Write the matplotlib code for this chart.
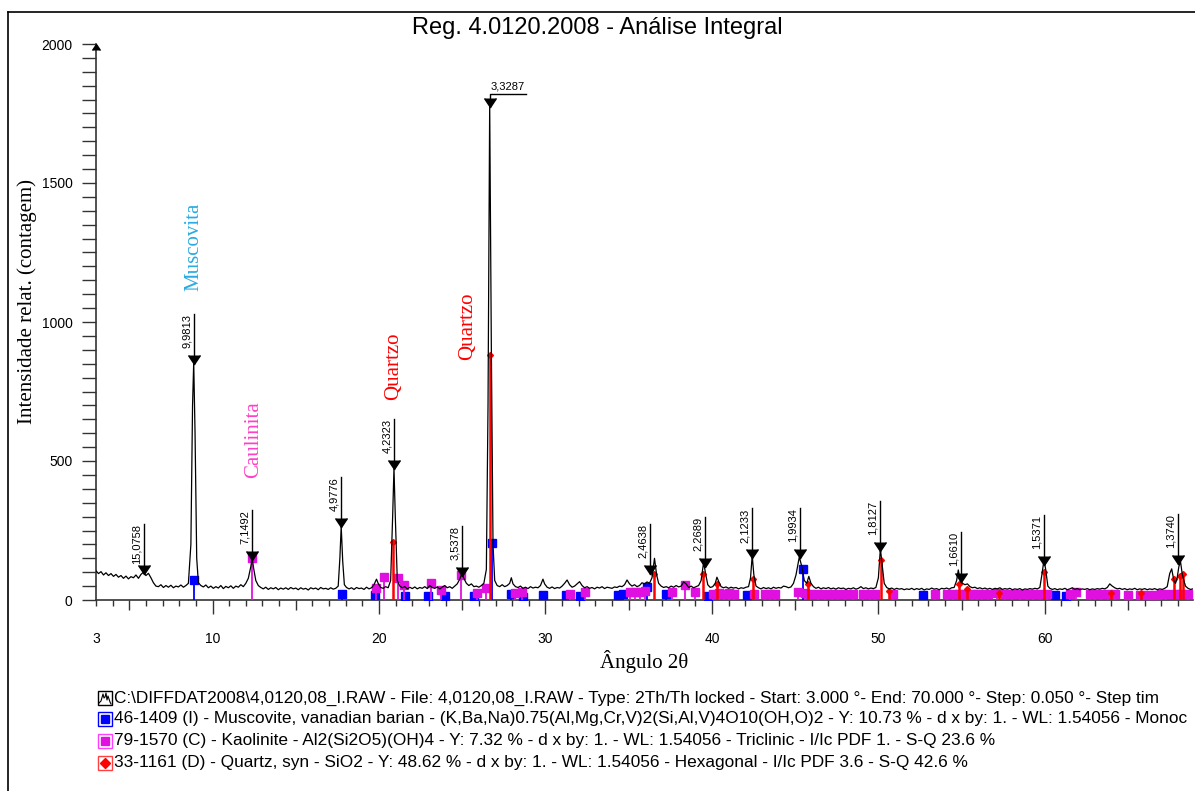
import matplotlib
matplotlib.use("Agg")
import matplotlib.pyplot as plt
from matplotlib.lines import Line2D
from matplotlib.patches import Rectangle
from matplotlib import transforms
from matplotlib.ticker import MultipleLocator

# Difratograma (2theta, contagens)
trace = [
    (3.00, 105), (3.15, 95), (3.30, 102), (3.45, 90), (3.60, 98), (3.75, 88), (3.90, 95),
    (4.05, 85), (4.20, 92), (4.35, 82), (4.50, 88), (4.65, 78), (4.80, 86), (4.95, 76),
    (5.10, 84), (5.25, 80), (5.40, 90), (5.55, 78), (5.70, 92), (5.85, 100), (6.00, 88),
    (6.15, 96), (6.30, 80), (6.45, 62), (6.60, 50), (6.75, 48), (6.90, 55), (7.05, 45),
    (7.20, 52), (7.35, 46), (7.50, 53), (7.65, 44), (7.80, 50), (7.95, 47), (8.10, 54),
    (8.25, 46), (8.40, 52), (8.55, 60), (8.70, 200), (8.80, 700), (8.87, 855), (8.95, 600),
    (9.05, 150), (9.15, 62), (9.30, 52), (9.45, 47), (9.60, 54), (9.75, 44), (9.90, 50),
    (10.05, 42), (10.20, 48), (10.35, 43), (10.50, 52), (10.65, 41), (10.80, 49), (10.95, 44),
    (11.10, 51), (11.25, 42), (11.40, 50), (11.55, 46), (11.70, 55), (11.85, 48), (12.00, 60),
    (12.15, 78), (12.30, 120), (12.38, 150), (12.48, 110), (12.60, 70), (12.75, 52), (12.90, 45),
    (13.05, 40), (13.20, 46), (13.35, 38), (13.50, 44), (13.65, 40), (13.80, 45), (13.95, 37),
    (14.10, 43), (14.25, 39), (14.40, 44), (14.55, 38), (14.70, 45), (14.85, 40), (15.00, 43),
    (15.15, 37), (15.30, 44), (15.45, 39), (15.60, 42), (15.75, 36), (15.90, 44), (16.05, 40),
    (16.20, 43), (16.35, 37), (16.50, 45), (16.65, 40), (16.80, 42), (16.95, 38), (17.10, 44),
    (17.25, 39), (17.40, 42), (17.55, 50), (17.65, 150), (17.73, 265), (17.82, 140), (17.92, 55),
    (18.05, 45), (18.20, 40), (18.35, 44), (18.50, 38), (18.65, 45), (18.80, 41), (18.95, 43),
    (19.10, 38), (19.25, 46), (19.40, 40), (19.55, 44), (19.70, 55), (19.85, 75), (19.95, 60),
    (20.10, 45), (20.25, 42), (20.40, 48), (20.55, 44), (20.70, 70), (20.82, 300), (20.90, 475),
    (20.98, 300), (21.10, 70), (21.25, 50), (21.40, 44), (21.55, 48), (21.70, 40), (21.85, 46),
    (22.00, 41), (22.15, 47), (22.30, 40), (22.45, 45), (22.60, 42), (22.75, 48), (22.90, 41),
    (23.05, 52), (23.20, 45), (23.35, 42), (23.50, 47), (23.65, 40), (23.80, 46), (23.95, 52),
    (24.10, 44), (24.25, 48), (24.40, 42), (24.55, 50), (24.70, 58), (24.85, 75), (24.98, 95),
    (25.10, 78), (25.25, 60), (25.40, 52), (25.55, 58), (25.70, 48), (25.85, 50), (26.00, 46),
    (26.15, 52), (26.30, 60), (26.45, 110), (26.55, 700), (26.65, 1785), (26.75, 900),
    (26.85, 200), (26.95, 70), (27.10, 52), (27.25, 48), (27.40, 55), (27.55, 48), (27.70, 52),
    (27.85, 60), (27.95, 80), (28.05, 58), (28.20, 48), (28.35, 45), (28.50, 50), (28.65, 42),
    (28.80, 46), (28.95, 41), (29.10, 48), (29.25, 43), (29.40, 46), (29.55, 44), (29.70, 52),
    (29.85, 75), (29.95, 58), (30.10, 46), (30.25, 42), (30.40, 47), (30.55, 41), (30.70, 45),
    (30.85, 43), (31.00, 50), (31.15, 60), (31.30, 72), (31.45, 55), (31.60, 46), (31.75, 50),
    (31.90, 58), (32.05, 66), (32.20, 52), (32.35, 44), (32.50, 48), (32.65, 42), (32.80, 45),
    (32.95, 40), (33.10, 46), (33.25, 43), (33.40, 48), (33.55, 41), (33.70, 46), (33.85, 44),
    (34.00, 42), (34.15, 47), (34.30, 45), (34.45, 50), (34.60, 48), (34.75, 55), (34.90, 72),
    (35.05, 58), (35.20, 50), (35.35, 55), (35.50, 48), (35.65, 52), (35.80, 62), (35.95, 58),
    (36.10, 65), (36.25, 60), (36.40, 80), (36.55, 150), (36.68, 90), (36.80, 60), (36.95, 50),
    (37.10, 45), (37.25, 48), (37.40, 44), (37.55, 50), (37.70, 46), (37.85, 52), (38.00, 47),
    (38.15, 50), (38.30, 65), (38.45, 58), (38.60, 45), (38.75, 50), (38.90, 44), (39.05, 48),
    (39.20, 52), (39.35, 70), (39.50, 135), (39.62, 95), (39.75, 55), (39.90, 45), (40.05, 48),
    (40.20, 60), (40.30, 82), (40.42, 65), (40.55, 48), (40.70, 44), (40.85, 47), (41.00, 42),
    (41.15, 46), (41.30, 43), (41.45, 45), (41.60, 40), (41.75, 44), (41.90, 42), (42.05, 46),
    (42.20, 48), (42.32, 80), (42.42, 160), (42.52, 90), (42.65, 50), (42.80, 44), (42.95, 40),
    (43.10, 45), (43.25, 41), (43.40, 44), (43.55, 40), (43.70, 46), (43.85, 42), (44.00, 45),
    (44.15, 43), (44.30, 50), (44.45, 48), (44.60, 44), (44.75, 47), (44.90, 60), (45.05, 90),
    (45.25, 155), (45.40, 120), (45.55, 70), (45.70, 60), (45.82, 85), (45.95, 60), (46.10, 48),
    (46.25, 42), (46.40, 46), (46.55, 40), (46.70, 44), (46.85, 41), (47.00, 45), (47.15, 40),
    (47.30, 43), (47.45, 39), (47.60, 44), (47.75, 41), (47.90, 43), (48.05, 38), (48.20, 42),
    (48.35, 40), (48.50, 44), (48.65, 39), (48.80, 42), (48.95, 48), (49.10, 41), (49.25, 44),
    (49.40, 40), (49.55, 43), (49.70, 41), (49.85, 45), (50.00, 80), (50.12, 185), (50.22, 130),
    (50.35, 60), (50.50, 45), (50.65, 40), (50.80, 43), (50.95, 38), (51.10, 42), (51.25, 39),
    (51.40, 41), (51.55, 37), (51.70, 40), (51.85, 38), (52.00, 42), (52.15, 37), (52.30, 41),
    (52.45, 38), (52.60, 42), (52.75, 36), (52.90, 40), (53.05, 38), (53.20, 43), (53.35, 39),
    (53.50, 41), (53.65, 37), (53.80, 42), (53.95, 40), (54.10, 43), (54.25, 39), (54.40, 44),
    (54.55, 45), (54.70, 70), (54.80, 108), (54.92, 70), (55.05, 60), (55.20, 55), (55.35, 58),
    (55.50, 48), (55.65, 44), (55.80, 46), (55.95, 41), (56.10, 44), (56.25, 40), (56.40, 43),
    (56.55, 39), (56.70, 42), (56.85, 38), (57.00, 42), (57.15, 40), (57.30, 44), (57.45, 38),
    (57.60, 41), (57.75, 39), (57.90, 42), (58.05, 37), (58.20, 40), (58.35, 38), (58.50, 41),
    (58.65, 36), (58.80, 40), (58.95, 38), (59.10, 41), (59.25, 39), (59.40, 42), (59.55, 40),
    (59.70, 45), (59.82, 90), (59.95, 145), (60.05, 110), (60.18, 50), (60.30, 42), (60.45, 38),
    (60.60, 41), (60.75, 37), (60.90, 40), (61.05, 38), (61.20, 42), (61.35, 37), (61.50, 40),
    (61.65, 44), (61.80, 38), (61.95, 41), (62.10, 37), (62.25, 40), (62.40, 38), (62.55, 41),
    (62.70, 37), (62.85, 40), (63.00, 38), (63.15, 41), (63.30, 39), (63.45, 42), (63.60, 40),
    (63.75, 45), (63.90, 58), (64.05, 50), (64.20, 44), (64.35, 40), (64.50, 42), (64.65, 38),
    (64.80, 41), (64.95, 37), (65.10, 40), (65.25, 38), (65.40, 42), (65.55, 37), (65.70, 40),
    (65.85, 38), (66.00, 41), (66.15, 37), (66.30, 40), (66.45, 38), (66.60, 41), (66.75, 37),
    (66.90, 40), (67.05, 38), (67.20, 42), (67.35, 48), (67.50, 95), (67.62, 112), (67.75, 70),
    (67.85, 60), (67.95, 80), (68.05, 120), (68.15, 138), (68.25, 95), (68.35, 70), (68.45, 50),
    (68.60, 42), (68.75, 38), (68.90, 40),
]
two_theta = [p[0] for p in trace]
counts = [p[1] for p in trace]

# picos identificados (2theta, intensidade, d)
peak_2t = [5.87, 8.87, 12.36, 17.73, 20.90, 25.00, 36.30, 39.60, 42.40, 45.27,
           50.10, 54.97, 59.95, 68.00]
peak_i = [95, 850, 145, 262, 470, 85, 95, 120, 150, 150, 175, 65, 125, 130]
peak_d = ['15,0758', '9,9813', '7,1492', '4,9776', '4,2323', '3,5378', '2,4638',
          '2,2689', '2,1233', '1,9934', '1,8127', '1,6610', '1,5371', '1,3740']
main_2t, main_i, main_d = 26.65, 1775, '3,3287'

# fichas de referencia
musc_2t = [8.87, 17.8, 19.75, 21.55, 22.95, 23.95, 25.7, 26.8, 27.95, 28.65, 29.85,
           31.25, 32.05, 34.35, 34.65, 36.1, 37.25, 39.75, 42.1, 45.5, 52.7, 60.6, 61.25]
musc_h = [72, 22, 18, 15, 15, 15, 15, 205, 20, 12, 18, 18, 15, 18, 22, 45, 20, 15,
          18, 112, 18, 18, 15]
kaol_2t = [12.36, 19.85, 20.3, 21.15, 21.5, 23.1, 23.7, 24.9, 25.9, 26.4, 28.15, 28.6,
           31.45, 32.35, 35.1, 35.4, 35.7, 36.0, 37.6, 38.4, 39.0, 40.05, 40.4, 40.7,
           41.0, 41.35, 42.5, 43.2, 43.5, 43.8, 45.2, 45.6, 45.9, 46.4, 46.8, 47.2, 47.6,
           48.0, 48.5, 49.1, 49.5, 49.8, 50.9, 53.4, 54.15, 54.5, 54.85, 55.2, 55.6,
           55.95, 56.2, 56.6, 57.1, 57.6, 58.0, 58.5, 58.9, 59.3, 59.7, 60.1, 61.5, 61.9,
           62.7, 63.0, 63.4, 63.8, 64.2, 65.0, 65.7, 66.2, 66.6, 67.0, 67.3, 67.8, 68.2, 68.6]
kaol_h = [150, 43, 83, 80, 54, 61, 36, 90, 25, 43, 25, 28, 21, 28, 28, 30, 28, 32, 28,
          55, 28, 22, 25, 22, 24, 22, 22, 20, 20, 20, 28, 25, 22, 20, 22, 20, 22, 20, 20,
          20, 22, 20, 20, 20, 22, 20, 22, 20, 20, 20, 20, 20, 25, 20, 20, 20, 20, 22, 20,
          20, 20, 28, 20, 20, 20, 20, 20, 18, 18, 18, 18, 20, 22, 20, 20, 20]
quartz_2t = [20.86, 26.64, 36.54, 39.47, 40.29, 42.45, 45.79, 50.14, 50.62, 54.87,
             55.33, 57.24, 59.96, 63.99, 65.79, 67.74, 68.14, 68.32]
quartz_h = [210, 880, 94, 94, 58, 75, 58, 144, 32, 58, 40, 25, 101, 25, 25, 75, 86, 94]

legend_lines = [
    r"C:\DIFFDAT2008\4,0120,08_I.RAW - File: 4,0120,08_I.RAW - Type: 2Th/Th locked - Start: 3.000 °- End: 70.000 °- Step: 0.050 °- Step tim",
    "46-1409 (I) - Muscovite, vanadian barian - (K,Ba,Na)0.75(Al,Mg,Cr,V)2(Si,Al,V)4O10(OH,O)2 - Y: 10.73 % - d x by: 1. - WL: 1.54056 - Monoc",
    "79-1570 (C) - Kaolinite - Al2(Si2O5)(OH)4 - Y: 7.32 % - d x by: 1. - WL: 1.54056 - Triclinic - I/Ic PDF 1. - S-Q 23.6 %",
    "33-1161 (D) - Quartz, syn - SiO2 - Y: 48.62 % - d x by: 1. - WL: 1.54056 - Hexagonal - I/Ic PDF 3.6 - S-Q 42.6 %",
]

SANS = ['Liberation Sans', 'DejaVu Sans']
SERIF = ['Liberation Serif', 'DejaVu Serif']
BLUE = '#0000ff'
MAG = '#e010e0'
RED = '#ff0000'

W, H = 1195, 791
fig = plt.figure(figsize=(W / 100, H / 100), dpi=100)
ax = fig.add_axes([96 / W, 1 - 600 / H, (1193 - 96) / W, (600 - 44) / H])

# moldura
fig.add_artist(Line2D([8 / W, 8 / W], [0, 1 - 12 / H], color='black', lw=1.2))
fig.add_artist(Line2D([8 / W, 1], [1 - 12 / H, 1 - 12 / H], color='black', lw=1.2))

# fichas
for x, h in zip(musc_2t, musc_h):
    ax.plot([x, x], [0, h], color=BLUE, lw=1.3, zorder=3)
ax.plot(musc_2t, musc_h, 's', color=BLUE, ms=6, zorder=3)
for x, h in zip(kaol_2t, kaol_h):
    ax.plot([x, x], [0, h], color=MAG, lw=1.3, zorder=3)
ax.plot(kaol_2t, kaol_h, 's', color=MAG, ms=6, zorder=3)
for x, h in zip(quartz_2t, quartz_h):
    ax.plot([x, x], [0, h], color=RED, lw=1.8, zorder=4)
ax.plot(quartz_2t, quartz_h, 'D', color=RED, ms=3, zorder=4)

# difratograma
ax.plot(two_theta, counts, color='black', lw=0.9, zorder=5)

# marcadores de picos
lab_tr = transforms.offset_copy(ax.transData, fig=fig, x=-1.5, y=0, units='points')
for x, y, d in zip(peak_2t, peak_i, peak_d):
    ax.plot([x, x], [y, y + 180], color='black', lw=1.0, zorder=6)
    ax.plot(x, y, marker=7, color='black', ms=9, zorder=6)
    ax.text(x, y + 180, d, transform=lab_tr, rotation=90, ha='right', va='top',
            fontsize=8, family=SANS)

ax.plot([main_2t, main_2t, main_2t + 2.2], [main_i, main_i + 45, main_i + 45],
        color='black', lw=1.0, zorder=6)
ax.plot(main_2t, main_i, marker=7, color='black', ms=9, zorder=6)
ax.text(main_2t + 0.05, main_i + 55, main_d, ha='left', va='bottom', fontsize=8, family=SANS)

# nomes das fases
ax.text(8.85, 1270, 'Muscovita', rotation=90, color='#29abe2', fontsize=15,
        family=SERIF, ha='center', va='center')
ax.text(12.45, 576, 'Caulinita', rotation=90, color='#ff40c8', fontsize=15,
        family=SERIF, ha='center', va='center')
ax.text(20.85, 842, 'Quartzo', rotation=90, color=RED, fontsize=15,
        family=SERIF, ha='center', va='center')
ax.text(25.3, 985, 'Quartzo', rotation=90, color=RED, fontsize=15,
        family=SERIF, ha='center', va='center')

# eixos
ax.set_xlim(3, 68.9)
ax.set_ylim(0, 2000)
for s in ['top', 'right']:
    ax.spines[s].set_visible(False)
for s in ['left', 'bottom']:
    ax.spines[s].set_color('#333333')
    ax.spines[s].set_linewidth(1.2)

ax.xaxis.set_minor_locator(MultipleLocator(1))
ax.set_xticks([3, 5, 10, 15, 20, 25, 30, 35, 40, 45, 50, 55, 60, 65])
ax.set_xticklabels(['3', '', '10', '', '20', '', '30', '', '40', '', '50', '', '60', ''])
ax.tick_params(axis='x', which='major', length=10, width=1.0, color='#333333', pad=13,
               labelsize=10)
ax.tick_params(axis='x', which='minor', length=4, width=1.0, color='#333333')
for t, v in zip(ax.xaxis.get_major_ticks(), ax.get_xticks()):
    if v == 3:
        t.tick1line.set_markersize(4)
    elif v % 10 != 0:
        t.tick1line.set_markersize(7.5)

ax.yaxis.set_major_locator(MultipleLocator(500))
ax.yaxis.set_minor_locator(MultipleLocator(50))
ax.tick_params(axis='y', which='both', length=10, width=1.0, color='#333333', pad=7,
               labelsize=10)
for lab in ax.get_xticklabels() + ax.get_yticklabels():
    lab.set_family(SANS)
ax.plot(3, 2000, marker=6, color='black', ms=6, clip_on=False, zorder=7)

ax.set_xlabel('Ângulo 2θ', family=SERIF, fontsize=15, labelpad=3)
fig.text(27 / W, 1 - 302 / H, 'Intensidade relat. (contagem)', rotation=90,
         ha='center', va='center', family=SERIF, fontsize=15)

fig.text(0.5, 1 - 28 / H, 'Reg. 4.0120.2008 - Análise Integral', ha='center', va='center',
         fontsize=17, family=SANS)

# legenda
row_y = [698, 719, 741, 763]
box_col = ['black', BLUE, '#ff40ff', '#ff4040']
for i, (yy, txt) in enumerate(zip(row_y, legend_lines)):
    fy = 1 - yy / H
    fig.add_artist(Rectangle((98 / W, fy - 7 / H), 14 / W, 14 / H, fill=False,
                             ec=box_col[i], lw=1.0, transform=fig.transFigure))
    fig.text(114 / W, fy, txt, ha='left', va='center', fontsize=12.4, family=SANS)
fy = 1 - row_y[0] / H
squig_x = [99, 101, 103, 104, 105, 106, 107, 108, 110, 111]
squig_y = [5, 3, -4, 0, -1, -5, 2, -2, 4, 6]
fig.add_artist(Line2D([v / W for v in squig_x], [fy - v / H for v in squig_y],
                      color='black', lw=0.8))
fig.add_artist(Rectangle((101 / W, 1 - 723 / H), 8 / W, 8 / H, color=BLUE,
                         transform=fig.transFigure))
fig.add_artist(Rectangle((101 / W, 1 - 745 / H), 8 / W, 8 / H, color=MAG,
                         transform=fig.transFigure))
fig.add_artist(Line2D([105 / W], [1 - 763 / H], marker='D', color=RED, ms=5))

fig.savefig('out.png', dpi=100)
